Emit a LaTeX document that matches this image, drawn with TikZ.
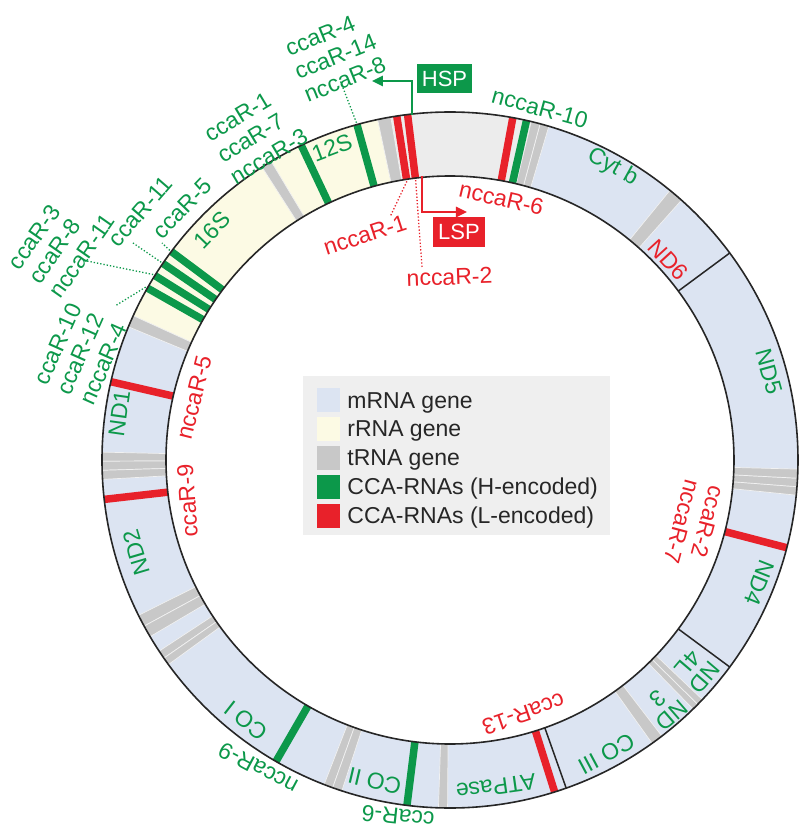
\documentclass[tikz,border=0pt]{standalone}
\usepackage{fontspec}
\setmainfont{Liberation Sans}
\usepackage{xcolor}
\usepackage{tikz}
\usetikzlibrary{positioning, arrows.meta}

\definecolor{mrna}{HTML}{DCE4F2}
\definecolor{rrna}{HTML}{FCFAE4}
\definecolor{trna}{HTML}{C8C8C8}
\definecolor{ctrl}{HTML}{ECECEC}
\definecolor{hgreen}{HTML}{0C984A}
\definecolor{lred}{HTML}{E8212A}
\definecolor{legbg}{HTML}{EFEFEF}

\begin{document}
\begin{tikzpicture}[
    x=1pt, y=1pt,
    font=\fontsize{23}{25}\selectfont,
    glabel/.style={text=hgreen, inner sep=0pt, align=left},
    rlabel/.style={text=lred, inner sep=0pt, align=left},
    ringlbl/.style={text=hgreen, inner sep=0pt, align=center},
    ccabar/.style={line width=7.5pt},
    leader/.style={dotted, line width=1.3pt},
    arrow/.style={-{Triangle[length=11pt,width=10pt]}, line width=2.5pt},
    tagbox/.style={rectangle, text=white, minimum width=55pt, minimum height=29pt, inner sep=0pt, font=\fontsize{22}{24}\selectfont},
    swatch/.style={rectangle, minimum width=23pt, minimum height=24pt, inner sep=0pt},
    legtxt/.style={inner sep=0pt, text=black!85, text height=16pt, text depth=0pt}
]
    \useasboundingbox (-450,-379) rectangle (350,460);

    % Ring - mRNA base, then rRNA and control region
    \fill[mrna, even odd rule] (0,0) circle[radius=348pt] circle[radius=284pt];
    \foreach \a/\b/\c in {102/155.5/rrna, 76.5/99.8/ctrl}
        \fill[\c] (\a:284pt) arc[start angle=\a, end angle=\b, radius=284pt] -- (\b:348pt) arc[start angle=\b, end angle=\a, radius=348pt] -- cycle;

    % tRNA genes
    \foreach \a/\b in {99.8/102, 120.9/122.7, 155.5/157.5, 178.7/180.2, 180.2/181.7, 181.7/183.2,
        206.5/208.5, 208.5/210.5, 213.3/214.7, 214.7/216, 248.8/250.3, 250.3/251.9, 268.1/269.6,
        305.5/307.5, 314.3/315.4, 315.4/316.5, 354.2/355.6, 355.6/357, 357/358.5, 48.3/50.8, 73.5/75, 75/76.5}
        \filldraw[fill=trna, draw=white!75!trna, line width=0.7pt] (\a:284pt) arc[start angle=\a, end angle=\b, radius=284pt] -- (\b:348pt) arc[start angle=\b, end angle=\a, radius=348pt] -- cycle;

    % CCA-RNA bars
    \foreach \a in {77.3, 105.5, 115.3, 143.2, 145.6, 148.0, 150.4, 240, 262.9}
        \draw[ccabar, hgreen] (\a:284pt) -- (\a:348pt);
    \foreach \a in {79.6, 97.0, 98.8, 167, 186.5, 287.5, 345.4}
        \draw[ccabar, lred] (\a:284pt) -- (\a:348pt);

    % Gene borders and outline
    \foreach \a in {36.5, 289.5, 323.5}
        \draw[line width=1.5pt, black!85] (\a:284pt) -- (\a:348pt);
    \draw[line width=1.6pt, black!85] (0,0) circle[radius=348pt] (0,0) circle[radius=284pt];

    % Gene names
    \node[ringlbl, rotate=20.7] (l12s) at (110.7:334pt) {12S};
    \node[ringlbl, rotate=46] (l16s) at (136:331pt) {16S};
    \node[ringlbl, rotate=82] (lnd1) at (172:334pt) {ND1};
    \node[ringlbl, rotate=106.5] (lnd2) at (196.5:327pt) {ND2};
    \node[ringlbl, rotate=142] (lco1) at (232:331pt) {CO I};
    \node[ringlbl, rotate=166.8] (lco2) at (256.8:330pt) {CO II};
    \node[ringlbl, rotate=188] (latp) at (278:330pt) {ATPase};
    \node[ringlbl, rotate=208] (lco3) at (298:333pt) {CO III};
    \node[ringlbl, rotate=221] (lnd3) at (311:327pt) {ND\\[-3pt]3};
    \node[ringlbl, rotate=229.5] (lnd4l) at (319.5:324pt) {ND\\[-3pt]4L};
    \node[ringlbl, rotate=248.4] (lnd4) at (338.4:333pt) {ND4};
    \node[ringlbl, rotate=-74.5] (lnd5) at (15.5:331pt) {ND5};
    \node[ringlbl, rotate=-29] (lcytb) at (61:335pt) {Cyt b};
    \node[ringlbl, text=lred, rotate=-47.5] (lnd6) at (42.5:296pt) {ND6};

    % H-encoded labels (outside)
    \node[glabel, rotate=22] (g8) at (-114.5,403.5) {ccaR-4\\ccaR-14\\nccaR-8};
    \node[glabel, rotate=31] (g3) at (-194,325) {ccaR-1\\ccaR-7\\nccaR-3};
    \node[glabel, rotate=49] (g11) at (-309.5,248.5) {ccaR-11};
    \node[glabel, rotate=46] (g5) at (-267.5,251.5) {ccaR-5};
    \node[glabel, rotate=55] (gn11) at (-388.5,218.5) {ccaR-3\\ccaR-8\\nccaR-11};
    \node[glabel, rotate=66] (gn4) at (-369.5,106) {ccaR-10\\ccaR-12\\nccaR-4};
    \node[glabel, rotate=-15.5] (gn10) at (90,352) {nccaR-10};
    \node[glabel, rotate=152] (gn9) at (-192,-308.5) {nccaR-9};
    \node[glabel, rotate=174] (g6) at (-52,-356.5) {ccaR-6};

    % L-encoded labels (inside)
    \node[rlabel, rotate=18] (rn1) at (-85,225) {nccaR-1};
    \node[rlabel, rotate=2] (rn2) at (-0.5,183) {nccaR-2};
    \node[rlabel, rotate=-13] (rn6) at (51.5,261.5) {nccaR-6};
    \node[rlabel, rotate=76] (rn5) at (-256,62.5) {nccaR-5};
    \node[rlabel, rotate=94] (r9) at (-262.5,-41) {ccaR-9};
    \node[rlabel, rotate=-105] (r2) at (244,-65) {ccaR-2\\nccaR-7};
    \node[rlabel, rotate=199] (r13) at (73.5,-254) {ccaR-13};

    % Leaders
    \coordinate (b8) at (105.5:350pt);   \coordinate (e8) at (-110,380);
    \coordinate (b5) at (143.2:350pt);   \coordinate (e5) at (-288,217);
    \coordinate (b11) at (145.6:350pt);  \coordinate (e11) at (-317,217);
    \coordinate (bn11) at (148:350pt);   \coordinate (en11) at (-363,199);
    \coordinate (bn4) at (150.4:350pt);  \coordinate (en4) at (-335,154);
    \coordinate (bn1) at (98.8:282pt);   \coordinate (en1) at (-60,243);
    \coordinate (bn2) at (97:282pt);     \coordinate (en2) at (-28,193);
    \draw[leader, hgreen] (b8) -- (e8);
    \draw[leader, hgreen] (b5) -- (e5);
    \draw[leader, hgreen] (b11) -- (e11);
    \draw[leader, hgreen] (bn11) -- (en11);
    \draw[leader, hgreen] (bn4) -- (en4);
    \draw[leader, lred] (bn1) -- (en1);
    \draw[leader, lred] (bn2) -- (en2);

    % Promoters
    \coordinate (hspfoot) at (96.3:347pt);
    \coordinate (hsptip) at (-78,379);
    \draw[arrow, hgreen] (hspfoot) |- (hsptip);
    \node[tagbox, fill=hgreen] (hsp) at (-5.5,381) {HSP};
    \coordinate (lspfoot) at (95.6:285pt);
    \coordinate (lsptip) at (17,248);
    \draw[arrow, lred] (lspfoot) |- (lsptip);
    \node[tagbox, fill=lred, minimum width=52pt, minimum height=30pt] (lsp) at (9,228) {LSP};

    % Legend
    \node[rectangle, fill=legbg, minimum width=307pt, minimum height=159pt, inner sep=0pt] (legend) at (6.5,4.5) {};
    \node[swatch, fill=mrna] (smrna) at (-121.5,60) {};
    \node[swatch, fill=rrna, below=4.5pt of smrna] (srrna) {};
    \node[swatch, fill=trna, below=4.5pt of srrna] (strna) {};
    \node[swatch, fill=hgreen, below=4.5pt of strna] (shenc) {};
    \node[swatch, fill=lred, below=4.5pt of shenc] (slenc) {};
    \node[legtxt, right=7pt of smrna] (tmrna) {mRNA gene};
    \node[legtxt, right=7pt of srrna] (trrna) {rRNA gene};
    \node[legtxt, right=7pt of strna] (ttrna) {tRNA gene};
    \node[legtxt, right=7pt of shenc] (thenc) {CCA-RNAs (H-encoded)};
    \node[legtxt, right=7pt of slenc] (tlenc) {CCA-RNAs (L-encoded)};

\end{tikzpicture}
\end{document}
